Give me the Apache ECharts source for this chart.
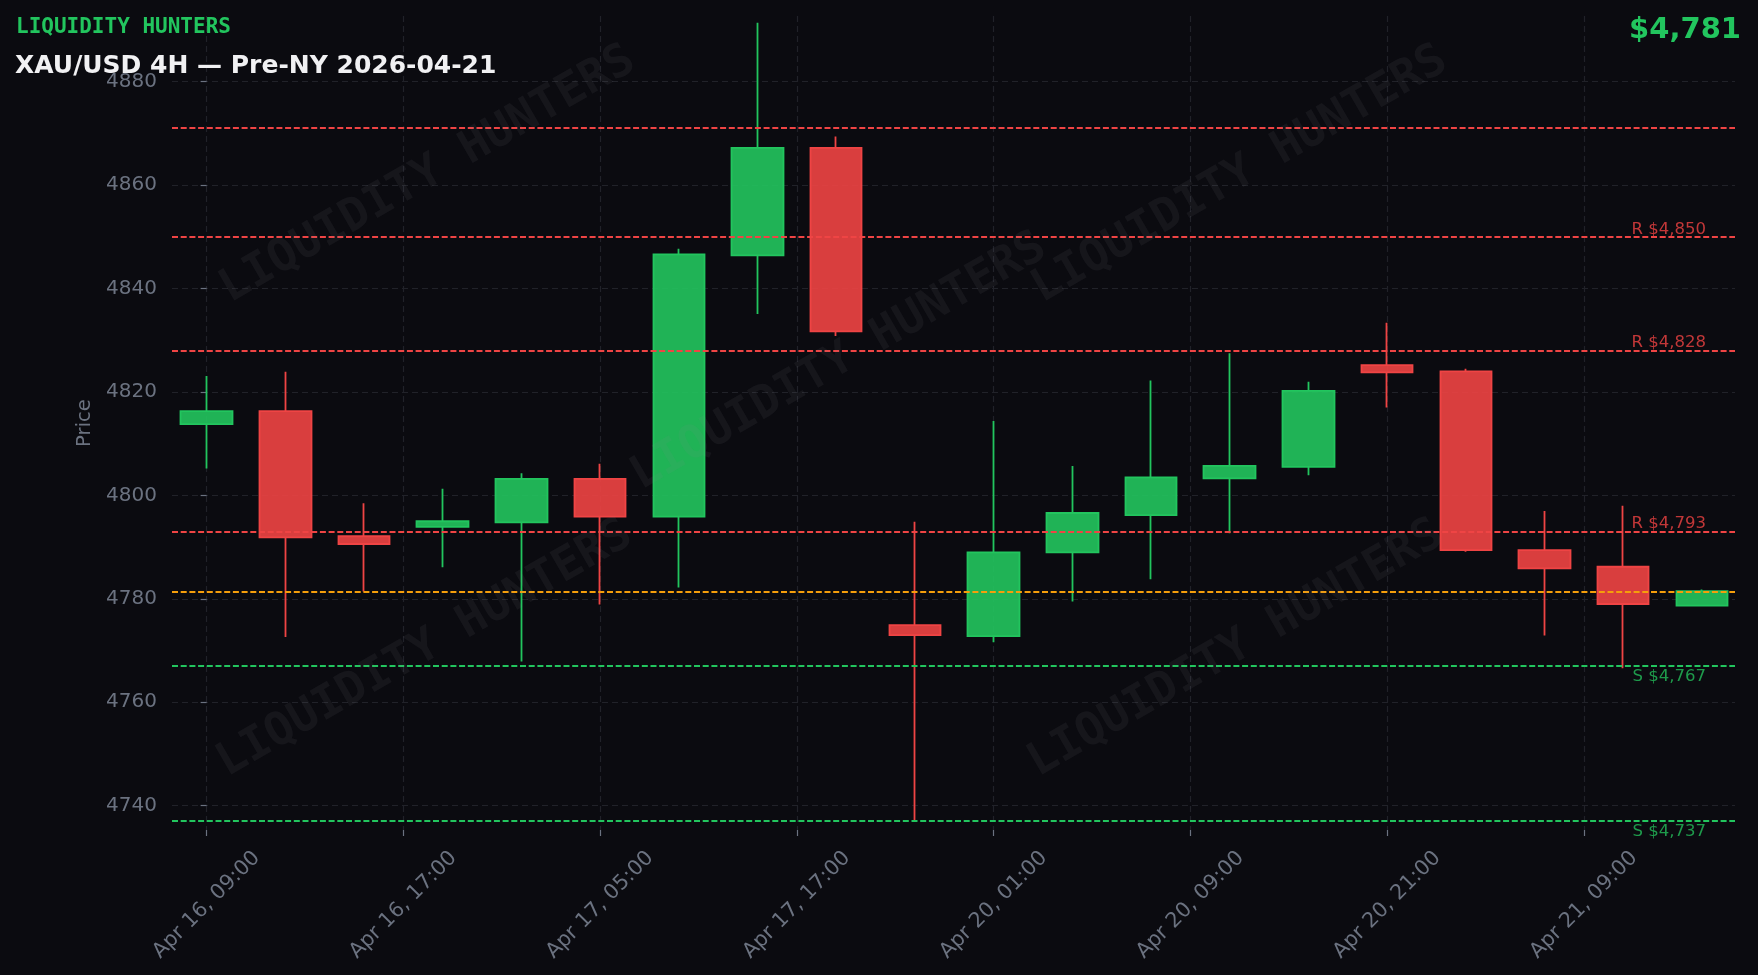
<!DOCTYPE html>
<html>
<head>
<meta charset="utf-8">
<script src="https://cdn.jsdelivr.net/npm/echarts@6/dist/echarts.min.js"></script>
<style>
html,body{margin:0;padding:0;background:#0b0b10;}
#chart{width:1758px;height:975px;}
</style>
</head>
<body>
<div id="chart"></div>
<script>
// ---- data ----
const candleIndex = [0, 1, 2, 3, 4, 5, 6, 7, 8, 9, 10, 11, 12, 13, 14, 15, 16, 17, 18, 19];
const openPrices  = [4813.8, 4816.3, 4792.1, 4793.9, 4794.8, 4803.2, 4795.9, 4846.4, 4867.2, 4774.9, 4772.8, 4789.0, 4796.2, 4803.3, 4805.5, 4825.2, 4824.0, 4789.4, 4786.2, 4778.7];
const closePrices = [4816.3, 4791.9, 4790.6, 4795.0, 4803.2, 4795.9, 4846.6, 4867.2, 4831.7, 4773.0, 4789.0, 4796.6, 4803.5, 4805.7, 4820.2, 4823.8, 4789.4, 4785.9, 4779.0, 4781.5];
const lowPrices   = [4805.2, 4772.6, 4781.4, 4786.1, 4767.9, 4778.9, 4782.2, 4835.1, 4830.8, 4737.2, 4771.6, 4779.5, 4783.8, 4792.7, 4803.9, 4817.0, 4789.1, 4772.9, 4766.6, 4778.7];
const highPrices  = [4823.1, 4823.9, 4798.5, 4801.3, 4804.3, 4806.1, 4847.7, 4891.4, 4869.4, 4794.9, 4814.4, 4805.7, 4822.2, 4827.5, 4822.0, 4833.4, 4824.5, 4797.0, 4798.0, 4781.8];

const xTickPositions = [0, 2.5, 5, 7.5, 10, 12.5, 15, 17.5];
const xTickLabels = ["Apr 16, 09:00", "Apr 16, 17:00", "Apr 17, 05:00", "Apr 17, 17:00",
                     "Apr 20, 01:00", "Apr 20, 09:00", "Apr 20, 21:00", "Apr 21, 09:00"];
const yTickValues = [4740, 4760, 4780, 4800, 4820, 4840, 4860, 4880];

const resistanceLevels = [4871, 4850, 4828, 4793];
const resistanceLabels = ["", "R $4,850", "R $4,828", "R $4,793"];
const supportLevels = [4767, 4737];
const supportLabels = ["S $4,767", "S $4,737"];
const currentPrice = 4781.45;

const brandText = "LIQUIDITY HUNTERS";
const titleText = "XAU/USD 4H \u2014 Pre-NY 2026-04-21";
const priceText = "$4,781";

// ---- build ----
const candleData = candleIndex.map((x, i) => [x, openPrices[i], closePrices[i], lowPrices[i], highPrices[i]]);

const GREEN = '#22c55e', RED = '#ef4444', ORANGE = '#f59e0b';
const lineDash = [6, 2.7];
const levelWidth = 1.9;

const markLines = [];
resistanceLevels.forEach((v, i) => {
  markLines.push({
    yAxis: v,
    lineStyle: { color: RED, type: lineDash, width: levelWidth, opacity: 1 },
    label: resistanceLabels[i] ? {
      show: true, formatter: resistanceLabels[i], position: 'insideEndTop',
      distance: [29, -1], color: 'rgba(226,64,64,0.85)', fontSize: 16.5, fontFamily: 'DejaVu Sans'
    } : { show: false }
  });
});
markLines.push({
  yAxis: currentPrice,
  lineStyle: { color: ORANGE, type: lineDash, width: levelWidth, opacity: 1 },
  label: { show: false }
});
supportLevels.forEach((v, i) => {
  markLines.push({
    yAxis: v,
    lineStyle: { color: GREEN, type: lineDash, width: levelWidth, opacity: 1 },
    label: {
      show: true, formatter: supportLabels[i], position: 'insideEndBottom',
      distance: [29, 2], color: 'rgba(34,180,86,0.85)', fontSize: 16.5, fontFamily: 'DejaVu Sans'
    }
  });
});

const gridLine = { show: true, lineStyle: { color: '#212229', type: [6, 4], width: 1.2 } };
const wmStyle = { font: 'bold 46px "DejaVu Sans Mono"', fill: 'rgba(140,140,150,0.085)', align: 'center', verticalAlign: 'middle' };
const wmPos = [[428, 175], [1240, 175], [839, 362], [425, 649], [1236, 649]];

const option = {
  backgroundColor: '#0b0b10',
  animation: false,
  grid: { left: 172, right: 23, top: 16, bottom: 145, containLabel: false },
  xAxis: {
    type: 'value', min: -0.44, max: 19.42,
    axisLine: { show: false },
    axisTick: { show: true, length: 6, lineStyle: { color: '#6b7280', width: 1.2 }, customValues: xTickPositions },
    axisLabel: {
      customValues: xTickPositions,
      formatter: (v) => { const k = xTickPositions.indexOf(v); return k >= 0 ? xTickLabels[k] : ''; },
      rotate: 45, align: 'center', verticalAlign: 'middle', margin: 75,
      color: '#6b7280', fontSize: 20.8, fontFamily: 'DejaVu Sans'
    },
    splitLine: gridLine
  },
  yAxis: {
    type: 'value', min: 4735.3, max: 4892.7, scale: true,
    name: 'Price', nameLocation: 'middle', nameGap: 71, nameRotate: 90,
    nameTextStyle: { color: '#6b7280', fontSize: 19.6, fontFamily: 'DejaVu Sans' },
    axisLine: { show: false },
    axisTick: { show: true, length: 6, lineStyle: { color: '#6b7280', width: 1.2 }, customValues: yTickValues },
    axisLabel: { customValues: yTickValues, formatter: (v) => String(v), margin: 15,
                 color: '#6b7280', fontSize: 20, fontFamily: 'DejaVu Sans' },
    splitLine: gridLine
  },
  series: [{
    type: 'candlestick',
    dimensions: ['x', 'open', 'close', 'low', 'high'],
    encode: { x: 'x', y: ['open', 'close', 'low', 'high'] },
    data: candleData,
    barWidth: 52,
    itemStyle: {
      color: 'rgba(34,197,94,0.9)', color0: 'rgba(239,68,68,0.9)',
      borderColor: GREEN, borderColor0: RED, borderWidth: 1.8
    },
    markLine: { silent: true, symbol: ['none', 'none'], data: markLines, z: 3 }
  }],
  graphic: [
    ...wmPos.map(p => ({ type: 'text', x: p[0], y: p[1], rotation: Math.PI / 6, z: 100, silent: true,
                          style: Object.assign({ text: brandText }, wmStyle) })),
    { type: 'text', x: 16, y: 28, z: 101,
      style: { text: brandText, font: 'bold 21px "DejaVu Sans Mono"', fill: GREEN, align: 'left', verticalAlign: 'middle' } },
    { type: 'text', x: 15, y: 66, z: 101,
      style: { text: titleText, font: 'bold 25px "DejaVu Sans"', fill: '#f1f1f3', align: 'left', verticalAlign: 'middle' } },
    { type: 'text', x: 1741, y: 30, z: 101,
      style: { text: priceText, font: 'bold 29px "DejaVu Sans"', fill: GREEN, align: 'right', verticalAlign: 'middle' } }
  ]
};

const chart = echarts.init(document.getElementById('chart'), null, { renderer: 'canvas' });
chart.setOption(option);
</script>
</body>
</html>
